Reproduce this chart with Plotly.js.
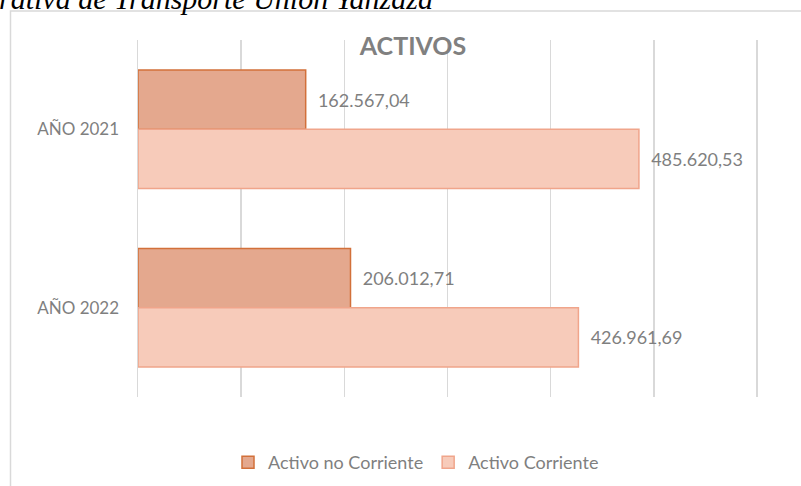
<!DOCTYPE html>
<html>
<head>
<meta charset="utf-8">
<script src="https://cdn.plot.ly/plotly-3.0.1.min.js"></script>
<style>html,body{margin:0;padding:0;background:#fff;}#chart{width:801px;height:486px;}</style>
</head>
<body>
<div id="chart"></div>
<script>
const categories = ["AÑO 2021", "AÑO 2022"];
const seriesNames = ["Activo no Corriente", "Activo Corriente"];
const activoNoCorriente = [162567.04, 206012.71];
const activoCorriente = [485620.53, 426961.69];
const chartTitle = "ACTIVOS";
const captionText = "rativa de Transporte Unión Yanzaza";

const gray = "#7f7f7f";
const font = "Lato, 'Open Sans', sans-serif";

const traces = [
  {
    type: "bar", orientation: "h", name: seriesNames[0],
    y: categories, x: activoNoCorriente,
    marker: {color: "#e4a88e", line: {color: "#d2703a", width: 1.5}},
    texttemplate: "\u00a0\u00a0%{x:,.2f}", textposition: "outside",
    textfont: {color: gray, size: 18, family: font}, cliponaxis: false,
    hoverinfo: "x"
  },
  {
    type: "bar", orientation: "h", name: seriesNames[1],
    y: categories, x: activoCorriente,
    marker: {color: "#f7cbba", line: {color: "#f0a58b", width: 1.5}},
    texttemplate: "\u00a0\u00a0%{x:,.2f}", textposition: "outside",
    textfont: {color: gray, size: 18, family: font}, cliponaxis: false,
    hoverinfo: "x"
  }
];

const W = 801 - 138 - 41;
const layout = {
  width: 801, height: 486,
  margin: {l: 138, r: 41, t: 40, b: 89, autoexpand: false},
  paper_bgcolor: "#fff", plot_bgcolor: "#fff",
  separators: ",.",
  font: {family: font, color: gray},
  barmode: "group", bargap: 0.335, bargroupgap: 0,
  showlegend: true,
  legend: {orientation: "h", x: (416 - 138) / W, xanchor: "center", y: (397 - 462.5) / 357, yanchor: "middle",
           font: {size: 18, color: gray, family: font}, traceorder: "normal",
           itemwidth: 30},
  title: {text: chartTitle, x: (413 - 138) / W, xref: "paper", xanchor: "center",
          y: 1 - 46/486, yref: "container", yanchor: "middle",
          font: {size: 25, color: "#808080", family: font, weight: "bold"}},
  xaxis: {range: [0, 603000], dtick: 100000, tick0: 0, showgrid: true, gridcolor: "#d9d9d9",
          gridwidth: 1.5, zeroline: false, showticklabels: false, showline: false, ticks: "",
          fixedrange: true},
  yaxis: {autorange: "reversed", type: "category", showgrid: false, zeroline: false,
          showline: true, linecolor: "#d9d9d9", linewidth: 1.5, ticks: "", ticklabelstandoff: 14,
          tickfont: {size: 17, color: gray, family: font}, fixedrange: true},
  shapes: [
    {type: "rect", xref: "paper", yref: "paper",
     x0: (10.5 - 138) / W, x1: 1.2, y0: -0.5, y1: (397 - 11) / 357,
     line: {color: "#d9d9d9", width: 1.5}, fillcolor: "rgba(0,0,0,0)", layer: "below"}
  ],
  annotations: [
    {text: captionText, xref: "paper", yref: "paper",
     x: (-3 - 138) / W, xanchor: "left", y: (397 + 1) / 357, yanchor: "middle",
     showarrow: false, font: {family: "'Liberation Serif', 'DejaVu Serif', serif", size: 30, color: "#000", style: "italic"}}
  ]
};

Plotly.newPlot("chart", traces, layout, {displayModeBar: false, staticPlot: true});
</script>
</body>
</html>
